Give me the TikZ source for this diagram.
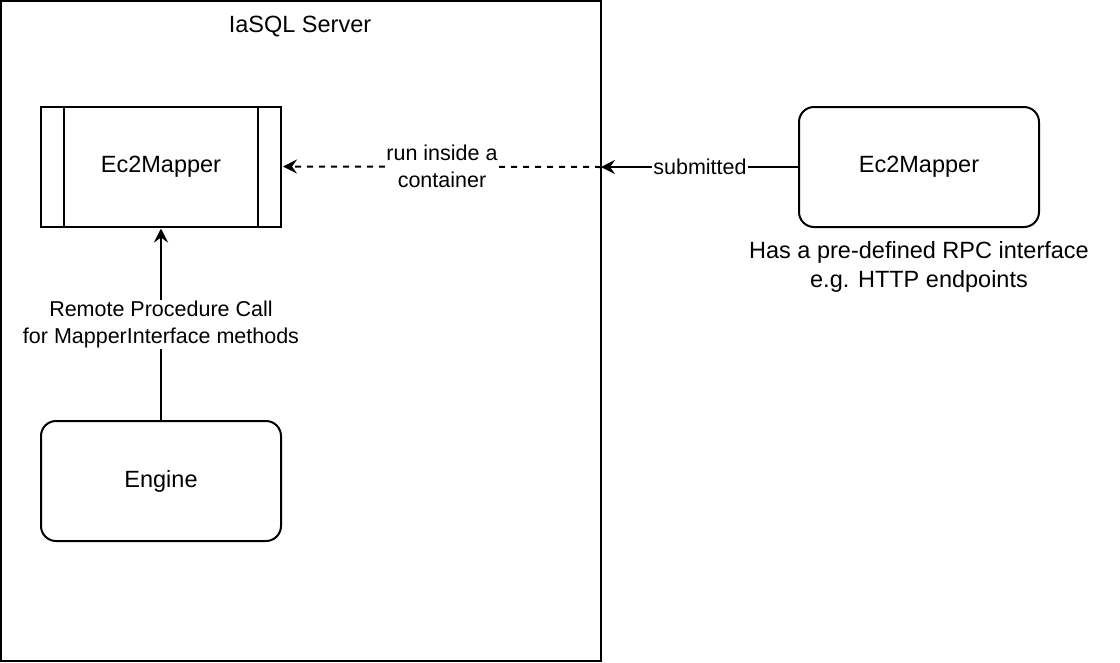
\documentclass[tikz,border=0pt]{standalone}
\usepackage{fontspec}
\setmainfont{Liberation Sans}
\usetikzlibrary{arrows.meta,calc}
\begin{document}
\begin{tikzpicture}[x=1pt,y=-1pt,
  every node/.style={inner sep=0pt, outer sep=0pt},
  line/.style={line width=2pt, black},
  arr/.style={line/.try, -{Stealth[length=14pt,width=14pt,inset=5pt]}},
  boxfont/.style={font=\fontsize{23.5}{29}\selectfont},
  lblfont/.style={font=\fontsize{21.5}{27}\selectfont, align=center},
  procbox/.style={draw, line width=2pt, minimum width=240pt, minimum height=120pt, boxfont},
  roundbox/.style={draw, line width=2pt, rounded corners=15pt, minimum width=240pt, minimum height=120pt, boxfont},
  lbl/.style={fill=white, lblfont, inner sep=1pt}
]
\useasboundingbox (0,0) rectangle (1120,662);
\node[draw, line width=2pt, minimum width=600pt, minimum height=660pt] (server) at (301,331) {};
\node[boxfont] (title) at (300,27) {IaSQL Server};
\node[procbox] (proc) at (161,166.5) {Ec2Mapper};
\draw[line] ($(proc.north west)+(23,0)$) -- ($(proc.south west)+(23,0)$);
\draw[line] ($(proc.north east)+(-23,0)$) -- ($(proc.south east)+(-23,0)$);
\node[roundbox] (engine) at (161,481) {Engine};
\node[roundbox] (ext) at (919,167) {Ec2Mapper};
\node[boxfont, align=center] (desc) at (919,267) {Has a pre-defined RPC interface\\e.g. HTTP endpoints};
\coordinate (sub) at (server.east |- ext.west);
\draw[arr] (engine.north) -- node[lbl] {Remote Procedure Call\\for MapperInterface methods} ($(proc.south)+(0,2)$);
\draw[arr] (ext.west) -- node[lbl] {submitted} (sub);
\draw[arr, dashed, dash pattern=on 6pt off 6pt] (sub) -- node[lbl] {run inside a\\container} ($(proc.east)+(2,0)$);
\end{tikzpicture}
\end{document}
